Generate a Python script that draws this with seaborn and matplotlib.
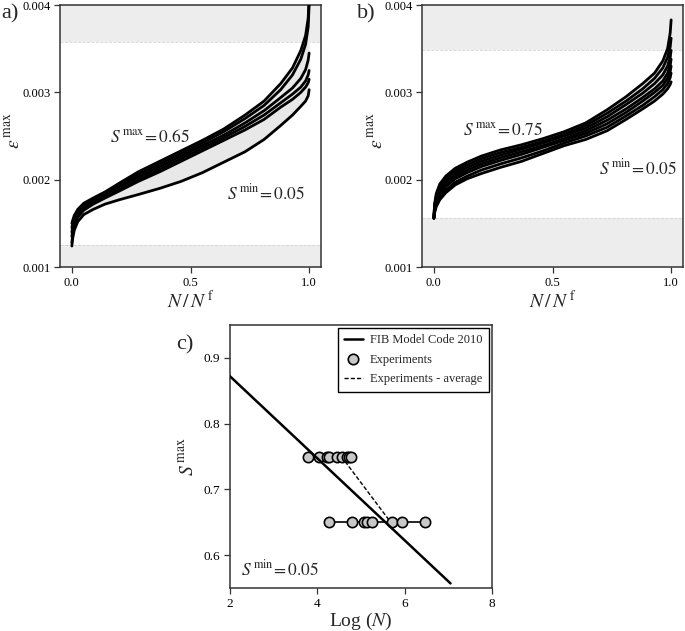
import numpy as np
import pandas as pd
import matplotlib
matplotlib.use('Agg')
import matplotlib.pyplot as plt
from matplotlib.lines import Line2D
import seaborn as sns

# N/Nf sample points shared by all strain curves
nn = [0, 0.003, 0.01, 0.025, 0.05, 0.09, 0.14, 0.2, 0.28, 0.37, 0.46,
      0.55, 0.64, 0.73, 0.81, 0.88, 0.93, 0.965, 0.985, 0.996, 1.0]

# ---- panel a: strain curves at S_max = 0.65 ----
curves_a = [
    [0.00150, 0.00153, 0.00159, 0.00166, 0.00173, 0.00179, 0.00186, 0.00196, 0.00209, 0.00221, 0.00233,
     0.00245, 0.00258, 0.00274, 0.00290, 0.00310, 0.00328, 0.00348, 0.00365, 0.00385, 0.00410],
    [0.00145, 0.00149, 0.00156, 0.00164, 0.00171, 0.00178, 0.00185, 0.00194, 0.00206, 0.00218, 0.00230,
     0.00242, 0.00255, 0.00270, 0.00285, 0.00303, 0.00320, 0.00338, 0.00355, 0.00375, 0.00400],
    [0.00140, 0.00145, 0.00153, 0.00161, 0.00169, 0.00176, 0.00183, 0.00192, 0.00203, 0.00215, 0.00227,
     0.00239, 0.00251, 0.00265, 0.00279, 0.00294, 0.00305, 0.00316, 0.00326, 0.00337, 0.00345],
    [0.00135, 0.00141, 0.00150, 0.00159, 0.00167, 0.00174, 0.00181, 0.00189, 0.00200, 0.00212, 0.00224,
     0.00236, 0.00248, 0.00261, 0.00274, 0.00288, 0.00298, 0.00306, 0.00313, 0.00320, 0.00325],
    [0.00128, 0.00136, 0.00147, 0.00157, 0.00165, 0.00172, 0.00179, 0.00187, 0.00198, 0.00209, 0.00221,
     0.00233, 0.00245, 0.00257, 0.00269, 0.00283, 0.00292, 0.00300, 0.00306, 0.00311, 0.00315],
    [0.00124, 0.00132, 0.00142, 0.00152, 0.00160, 0.00166, 0.00172, 0.00177, 0.00183, 0.00190, 0.00198,
     0.00208, 0.00220, 0.00232, 0.00246, 0.00262, 0.00274, 0.00284, 0.00290, 0.00296, 0.00303],
]
band_a = (0.00125, 0.00358)

# ---- panel b: strain curves at S_max = 0.75 ----
curves_b = [
    [0.00156, 0.00172, 0.00184, 0.00195, 0.00204, 0.00213, 0.00220, 0.00227, 0.00234, 0.00240, 0.00247,
     0.00255, 0.00265, 0.00280, 0.00295, 0.00310, 0.00322, 0.00336, 0.00350, 0.00368, 0.00383],
    [0.00156, 0.00170, 0.00181, 0.00192, 0.00201, 0.00210, 0.00217, 0.00224, 0.00231, 0.00237, 0.00244,
     0.00252, 0.00262, 0.00276, 0.00290, 0.00304, 0.00316, 0.00328, 0.00340, 0.00352, 0.00362],
    [0.00156, 0.00168, 0.00179, 0.00189, 0.00198, 0.00207, 0.00214, 0.00221, 0.00228, 0.00235, 0.00242,
     0.00250, 0.00259, 0.00272, 0.00286, 0.00299, 0.00310, 0.00320, 0.00330, 0.00340, 0.00348],
    [0.00156, 0.00166, 0.00177, 0.00186, 0.00195, 0.00204, 0.00211, 0.00218, 0.00225, 0.00232, 0.00239,
     0.00247, 0.00256, 0.00268, 0.00281, 0.00294, 0.00304, 0.00313, 0.00322, 0.00331, 0.00338],
    [0.00156, 0.00165, 0.00175, 0.00183, 0.00192, 0.00201, 0.00208, 0.00215, 0.00222, 0.00229, 0.00237,
     0.00245, 0.00253, 0.00264, 0.00277, 0.00290, 0.00300, 0.00308, 0.00316, 0.00324, 0.00330],
    [0.00156, 0.00163, 0.00172, 0.00180, 0.00188, 0.00197, 0.00204, 0.00211, 0.00218, 0.00225, 0.00233,
     0.00242, 0.00250, 0.00260, 0.00273, 0.00285, 0.00295, 0.00303, 0.00310, 0.00317, 0.00322],
    [0.00156, 0.00162, 0.00169, 0.00177, 0.00185, 0.00194, 0.00201, 0.00207, 0.00214, 0.00221, 0.00230,
     0.00239, 0.00246, 0.00256, 0.00269, 0.00281, 0.00290, 0.00298, 0.00304, 0.00309, 0.00312],
]
band_b = (0.00156, 0.00349)

eps_ticks = [0.001, 0.002, 0.003, 0.004]
eps_ticklabels = ['0.001', '0.002', '0.003', '0.004']
nn_ticks = [0.0, 0.5, 1.0]
nn_ticklabels = ['0.0', '0.5', '1.0']

# ---- panel c: S-N ----
fib_logN = [2.0, 7.05]
fib_S = [0.872, 0.557]
exp_logN_075 = [3.78, 4.03, 4.21, 4.27, 4.44, 4.57, 4.67, 4.73, 4.78]
exp_logN_065 = [4.27, 4.79, 5.07, 5.14, 5.26, 5.71, 5.94, 6.46]
avg_logN = [4.55, 5.68]
avg_S = [0.75, 0.65]

sns.set_theme(style='ticks')
plt.rcParams['font.family'] = ['Liberation Serif', 'DejaVu Serif']
plt.rcParams['mathtext.fontset'] = 'stix'
plt.rcParams['axes.edgecolor'] = '#333333'
plt.rcParams['axes.linewidth'] = 1.1
plt.rcParams['xtick.color'] = '#333333'
plt.rcParams['ytick.color'] = '#333333'
plt.rcParams['xtick.labelcolor'] = 'black'
plt.rcParams['ytick.labelcolor'] = 'black'

W, H = 685, 631
fig = plt.figure(figsize=(W / 100, H / 100), dpi=100)


def px_axes(l, t, r, b):
    return fig.add_axes([l / W, 1 - b / H, (r - l) / W, (b - t) / H])


ax_a = px_axes(60, 5, 321, 267)
ax_b = px_axes(422, 5, 683, 267)
ax_c = px_axes(230, 325, 492, 588)


def strain_panel(ax, curves, band, smax_txt, smax_pos, smin_pos, ylab_x):
    ax.axhspan(band[1], 0.0045, color='#ededed', lw=0, zorder=0)
    ax.axhspan(0.0005, band[0], color='#ededed', lw=0, zorder=0)
    for b in band:
        ax.axhline(b, color='#d4d4d4', lw=0.6, ls='--', zorder=0.5)
    arr = np.array(curves)
    ax.fill_between(nn, arr.min(axis=0), arr.max(axis=0), color='#e8e8e8', lw=0, zorder=1)
    df = pd.DataFrame({
        'nn': np.tile(nn, len(curves)),
        'eps': arr.ravel(),
        'curve': np.repeat(np.arange(len(curves)), len(nn)),
    })
    sns.lineplot(data=df, x='nn', y='eps', units='curve', estimator=None, sort=False,
                 color='black', lw=2.0, ax=ax, zorder=3)
    ax.set_xlim(-0.05, 1.05)
    ax.set_ylim(0.001, 0.004)
    ax.set_xticks(nn_ticks)
    ax.set_xticklabels(nn_ticklabels)
    ax.set_yticks(eps_ticks)
    ax.set_yticklabels(eps_ticklabels)
    ax.tick_params(labelsize=9, length=4, width=0.9, pad=3)
    ax.set_xlabel(r'$N\,/\,N^{\,\mathrm{f}}$', fontsize=14, labelpad=1)
    ax.set_ylabel(r'$\varepsilon^{\,\mathrm{max}}$', fontsize=14)
    ax.yaxis.set_label_coords(ylab_x, 0.52)
    ax.text(*smax_pos, smax_txt, fontsize=12.5, ha='center', va='center', zorder=5)
    ax.text(*smin_pos, r'$S^{\,\mathrm{min}}\!=0.05$', fontsize=12.5, ha='center', va='center', zorder=5)
    for s in ax.spines.values():
        s.set_visible(True)


strain_panel(ax_a, curves_a, band_a, r'$S^{\,\mathrm{max}}\!=0.65$', (0.33, 0.00248), (0.82, 0.00184), -0.14)
strain_panel(ax_b, curves_b, band_b, r'$S^{\,\mathrm{max}}\!=0.75$', (0.29, 0.00256), (0.86, 0.00213), -0.135)

# panel c
exp_df = pd.DataFrame({
    'logN': exp_logN_075 + exp_logN_065,
    'S': [0.75] * len(exp_logN_075) + [0.65] * len(exp_logN_065),
})
sns.lineplot(data=exp_df, x='logN', y='S', units='S', estimator=None, color='black',
             lw=1.2, ax=ax_c, zorder=2)
ax_c.plot(avg_logN, avg_S, color='black', ls='--', lw=1.0, dashes=(3, 1.5), zorder=2.5)
sns.scatterplot(data=exp_df, x='logN', y='S', s=55, color='#c8c8c8', edgecolor='black',
                linewidth=1.2, ax=ax_c, zorder=3)
sns.lineplot(x=fib_logN, y=fib_S, color='black', lw=1.8, ax=ax_c, zorder=4)
ax_c.set_xlim(2, 8)
ax_c.set_ylim(0.55, 0.95)
ax_c.set_xticks([2, 4, 6, 8])
ax_c.set_yticks([0.6, 0.7, 0.8, 0.9])
ax_c.tick_params(labelsize=9.5, length=4, width=0.9, pad=3)
ax_c.set_xlabel(r'Log ($N$)', fontsize=14, labelpad=1)
ax_c.set_ylabel(r'$S^{\,\mathrm{max}}$', fontsize=14)
ax_c.yaxis.set_label_coords(-0.125, 0.5)
ax_c.text(2.25, 0.578, r'$S^{\,\mathrm{min}}\!=0.05$', fontsize=12.5, ha='left', va='center')
handles = [
    Line2D([], [], color='black', lw=1.8),
    Line2D([], [], ls='', marker='o', markersize=7.5, markerfacecolor='#c8c8c8',
           markeredgecolor='black', markeredgewidth=1.2),
    Line2D([], [], color='black', ls='--', lw=1.0, dashes=(3, 1.5)),
]
leg = ax_c.legend(handles, ['FIB Model Code 2010', 'Experiments', 'Experiments - average'],
                  loc='upper right', fontsize=9, frameon=True, fancybox=False,
                  edgecolor='black', framealpha=1, borderaxespad=0.25, handlelength=1.5,
                  handletextpad=0.6, labelspacing=0.6, borderpad=0.5)
leg.get_frame().set_linewidth(1.0)

fig.text(1 / W, 1 - 14 / H, 'a)', fontsize=16, ha='left', va='center')
fig.text(357 / W, 1 - 14 / H, 'b)', fontsize=16, ha='left', va='center')
fig.text(176 / W, 1 - 345 / H, 'c)', fontsize=16, ha='left', va='center')

fig.savefig('out.png', dpi=100)
